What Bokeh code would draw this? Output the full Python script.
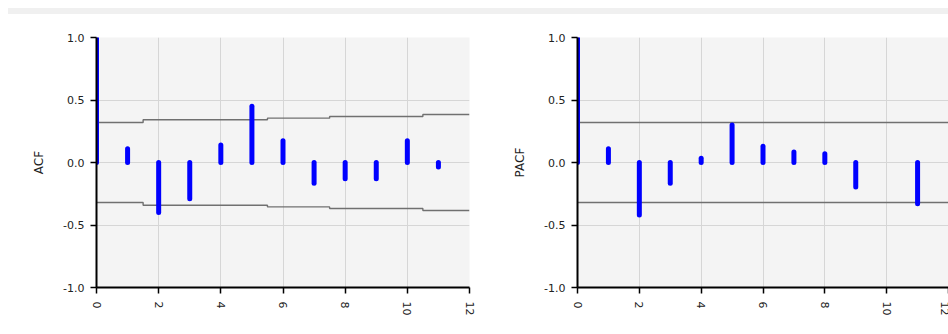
from bokeh.plotting import figure
from bokeh.layouts import column, row
from bokeh.models import Div, FixedTicker, PrintfTickFormatter, Range1d
from bokeh.embed import file_html
from bokeh.resources import INLINE

# ---- data ----
lags = [0, 1, 2, 3, 4, 5, 6, 7, 8, 9, 10, 11]
acf_vals = [1.0, 0.11, -0.40, -0.29, 0.14, 0.45, 0.175, -0.165, -0.13, -0.13, 0.175, -0.035]
pacf_vals = [1.0, 0.11, -0.42, -0.165, 0.035, 0.30, 0.13, 0.085, 0.07, -0.195, 0.0, -0.33]
pacf_show = [True, True, True, True, True, True, True, True, True, True, False, True]

conf_lags = [0, 1, 2, 3, 4, 5, 6, 7, 8, 9, 10, 11, 12]
acf_conf = [0.32, 0.32, 0.342, 0.342, 0.342, 0.342, 0.355, 0.355, 0.368, 0.368, 0.368, 0.384, 0.384]
pacf_conf = [0.32] * 13

x_ticks = [0, 2, 4, 6, 8, 10, 12]
y_ticks = [-1.0, -0.5, 0.0, 0.5, 1.0]

FONT = "DejaVu Sans"
BAR = "#0000ff"
CONF = "#707070"


def make_fig(label, width, border_left, border_right, vals, show, conf):
    p = figure(width=width, height=312, output_backend="svg", toolbar_location=None,
               x_range=Range1d(0, 12), y_range=Range1d(-1, 1),
               min_border_left=border_left, min_border_right=border_right,
               min_border_top=23, min_border_bottom=39,
               background_fill_color="#f4f4f4", border_fill_color="white",
               outline_line_color=None)
    # grid
    p.xaxis.ticker = FixedTicker(ticks=x_ticks)
    p.yaxis.ticker = FixedTicker(ticks=y_ticks)
    p.xgrid.ticker = FixedTicker(ticks=x_ticks)
    p.ygrid.ticker = FixedTicker(ticks=y_ticks)
    p.grid.grid_line_color = "#d6d6d6"
    p.grid.grid_line_width = 1
    # axes
    for ax in (p.xaxis, p.yaxis):
        ax.axis_line_color = "black"
        ax.axis_line_width = 2
        ax.major_tick_line_color = "black"
        ax.major_tick_line_width = 1.5
        ax.major_tick_in = 0
        ax.major_tick_out = 6
        ax.minor_tick_line_color = None
        ax.major_label_text_font = FONT
        ax.major_label_text_font_size = "11px"
        ax.major_label_text_color = "#222222"
        ax.major_label_standoff = 6
    p.xaxis.major_label_standoff = 8
    p.yaxis.formatter = PrintfTickFormatter(format="%.1f")
    p.xaxis.major_label_orientation = "vertical"
    p.yaxis.axis_label = label
    p.yaxis.axis_label_text_font = FONT
    p.yaxis.axis_label_text_font_size = "12px"
    p.yaxis.axis_label_text_font_style = "normal"
    p.yaxis.axis_label_text_color = "#222222"
    p.yaxis.axis_label_standoff = 14

    # confidence bands
    p.step(conf_lags, conf, mode="center", line_color=CONF, line_width=1.4)
    p.step(conf_lags, [-c for c in conf], mode="center", line_color=CONF, line_width=1.4)

    # stems
    xs = [l for l, s in zip(lags, show) if s]
    ys = [v for v, s in zip(vals, show) if s]
    p.segment(x0=xs, y0=[0] * len(xs), x1=xs, y1=ys, line_color=BAR,
              line_width=5, line_cap="round")
    return p


p1 = make_fig("ACF", 482, 88, 21, acf_vals, [True] * len(lags), acf_conf)
p2 = make_fig("PACF", 458, 87, 0, pacf_vals, pacf_show, pacf_conf)

strip = Div(text="", width=940, height=6, margin=0,
            styles={"background-color": "#f0f0f0"})

layout = column(strip, row(p1, p2, spacing=0), spacing=0, margin=(8, 0, 0, 8))

open("out.html", "w").write(file_html(layout, INLINE))
